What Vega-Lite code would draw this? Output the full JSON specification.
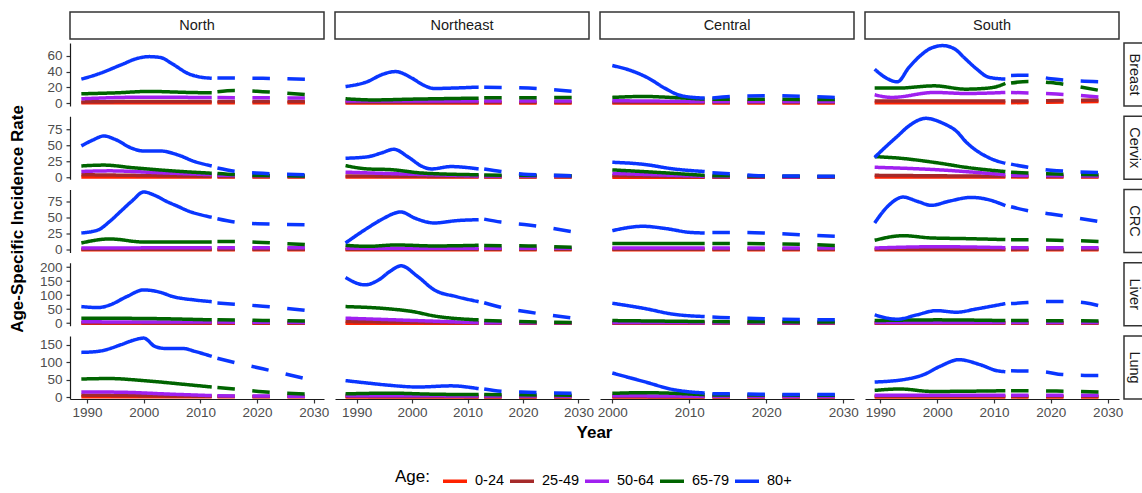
{
"$schema":"https://vega.github.io/schema/vega-lite/v6.json",
"padding":{"left":0,"top":11,"right":0,"bottom":0},
"background":"white",
"config":{
 "font":"Liberation Sans",
 "view":{"stroke":null},
 "line":{"strokeWidth":3.5,"strokeCap":"butt","strokeJoin":"round","interpolate":"monotone"},
 "range":{"category":["#ff2200","#a52a2a","#a020f0","#006400","#0a36ff"]},
 "axis":{"grid":false,"title":null,"domainColor":"#1a1a1a","domainWidth":1.2,"tickColor":"#333333","tickWidth":1.2,"tickSize":4,"labelColor":"#4d4d4d","labelFontSize":13.5,"labelFont":"Liberation Sans","labelOverlap":false},
 "axisY":{"labelPadding":4,"minExtent":34,"maxExtent":34},
 "axisX":{"labelPadding":2,"labelFlush":false},
 "legend":{"titleFontSize":17,"titleFontWeight":"normal","titleColor":"#000000","titleFont":"Liberation Sans","titlePadding":11,"titleAnchor":"middle","titleBaseline":"middle","labelFontSize":14.5,"labelColor":"#000000","labelFont":"Liberation Sans","labelOffset":6,"columnPadding":3,"symbolType":"stroke","symbolSize":576,"symbolStrokeWidth":3.5}
},
"datasets":{
"N_Br":[
{"age":"0-24","year":1989,"rate":0.3,"part":"obs"},{"age":"0-24","year":2012,"rate":0.3,"part":"obs"},{"age":"0-24","year":2013,"rate":0.3,"part":"proj"},{"age":"0-24","year":2029,"rate":0.3,"part":"proj"},
{"age":"25-49","year":1989,"rate":1.5,"part":"obs"},{"age":"25-49","year":2000,"rate":2,"part":"obs"},{"age":"25-49","year":2012,"rate":2,"part":"obs"},{"age":"25-49","year":2013,"rate":2,"part":"proj"},{"age":"25-49","year":2029,"rate":2,"part":"proj"},
{"age":"50-64","year":1989,"rate":5.5,"part":"obs"},{"age":"50-64","year":2000,"rate":7.5,"part":"obs"},{"age":"50-64","year":2012,"rate":7,"part":"obs"},{"age":"50-64","year":2013,"rate":7,"part":"proj"},{"age":"50-64","year":2029,"rate":6.5,"part":"proj"},
{"age":"65-79","year":1989,"rate":11.8,"part":"obs"},{"age":"65-79","year":1995,"rate":13,"part":"obs"},{"age":"65-79","year":2001,"rate":14.8,"part":"obs"},{"age":"65-79","year":2008,"rate":13.5,"part":"obs"},{"age":"65-79","year":2012,"rate":13,"part":"obs"},{"age":"65-79","year":2013,"rate":14.5,"part":"proj"},{"age":"65-79","year":2016,"rate":16,"part":"proj"},{"age":"65-79","year":2021,"rate":14.5,"part":"proj"},{"age":"65-79","year":2029,"rate":10.5,"part":"proj"},
{"age":"80+","year":1989,"rate":30.4,"part":"obs"},{"age":"80+","year":1992,"rate":37,"part":"obs"},{"age":"80+","year":1996,"rate":48.5,"part":"obs"},{"age":"80+","year":1999,"rate":57,"part":"obs"},{"age":"80+","year":2001,"rate":59,"part":"obs"},{"age":"80+","year":2003,"rate":57.8,"part":"obs"},{"age":"80+","year":2005,"rate":50,"part":"obs"},{"age":"80+","year":2008,"rate":37,"part":"obs"},{"age":"80+","year":2010,"rate":33,"part":"obs"},{"age":"80+","year":2012,"rate":31.6,"part":"obs"},{"age":"80+","year":2013,"rate":32,"part":"proj"},{"age":"80+","year":2021,"rate":31.5,"part":"proj"},{"age":"80+","year":2029,"rate":30,"part":"proj"}],
"N_Cx":[
{"age":"0-24","year":1989,"rate":0.4,"part":"obs"},{"age":"0-24","year":2012,"rate":0.4,"part":"obs"},{"age":"0-24","year":2013,"rate":0.4,"part":"proj"},{"age":"0-24","year":2029,"rate":0.4,"part":"proj"},
{"age":"25-49","year":1989,"rate":4,"part":"obs"},{"age":"25-49","year":2012,"rate":1.5,"part":"obs"},{"age":"25-49","year":2013,"rate":1.3,"part":"proj"},{"age":"25-49","year":2029,"rate":1,"part":"proj"},
{"age":"50-64","year":1989,"rate":9,"part":"obs"},{"age":"50-64","year":1994,"rate":10,"part":"obs"},{"age":"50-64","year":2003,"rate":7,"part":"obs"},{"age":"50-64","year":2012,"rate":4,"part":"obs"},{"age":"50-64","year":2013,"rate":3,"part":"proj"},{"age":"50-64","year":2029,"rate":2,"part":"proj"},
{"age":"65-79","year":1989,"rate":17.7,"part":"obs"},{"age":"65-79","year":1993,"rate":19,"part":"obs"},{"age":"65-79","year":1998,"rate":15,"part":"obs"},{"age":"65-79","year":2005,"rate":10,"part":"obs"},{"age":"65-79","year":2012,"rate":6.3,"part":"obs"},{"age":"65-79","year":2013,"rate":6,"part":"proj"},{"age":"65-79","year":2018,"rate":3.5,"part":"proj"},{"age":"65-79","year":2029,"rate":2,"part":"proj"},
{"age":"80+","year":1989,"rate":49,"part":"obs"},{"age":"80+","year":1991,"rate":58,"part":"obs"},{"age":"80+","year":1993,"rate":64.5,"part":"obs"},{"age":"80+","year":1995,"rate":59,"part":"obs"},{"age":"80+","year":1998,"rate":45,"part":"obs"},{"age":"80+","year":2000,"rate":41,"part":"obs"},{"age":"80+","year":2003,"rate":41,"part":"obs"},{"age":"80+","year":2006,"rate":35,"part":"obs"},{"age":"80+","year":2009,"rate":24.5,"part":"obs"},{"age":"80+","year":2012,"rate":17.7,"part":"obs"},{"age":"80+","year":2013,"rate":14.5,"part":"proj"},{"age":"80+","year":2016,"rate":9.5,"part":"proj"},{"age":"80+","year":2021,"rate":6.2,"part":"proj"},{"age":"80+","year":2029,"rate":4,"part":"proj"}],
"N_CRC":[
{"age":"0-24","year":1989,"rate":0.2,"part":"obs"},{"age":"0-24","year":2012,"rate":0.2,"part":"obs"},{"age":"0-24","year":2013,"rate":0.2,"part":"proj"},{"age":"0-24","year":2029,"rate":0.2,"part":"proj"},
{"age":"25-49","year":1989,"rate":1,"part":"obs"},{"age":"25-49","year":2012,"rate":1,"part":"obs"},{"age":"25-49","year":2013,"rate":1,"part":"proj"},{"age":"25-49","year":2029,"rate":1,"part":"proj"},
{"age":"50-64","year":1989,"rate":3,"part":"obs"},{"age":"50-64","year":2012,"rate":3.5,"part":"obs"},{"age":"50-64","year":2013,"rate":3.5,"part":"proj"},{"age":"50-64","year":2029,"rate":3.5,"part":"proj"},
{"age":"65-79","year":1989,"rate":10.8,"part":"obs"},{"age":"65-79","year":1994,"rate":17,"part":"obs"},{"age":"65-79","year":2000,"rate":12.3,"part":"obs"},{"age":"65-79","year":2012,"rate":12.3,"part":"obs"},{"age":"65-79","year":2013,"rate":13,"part":"proj"},{"age":"65-79","year":2016,"rate":13,"part":"proj"},{"age":"65-79","year":2021,"rate":11.5,"part":"proj"},{"age":"65-79","year":2029,"rate":8,"part":"proj"},
{"age":"80+","year":1989,"rate":26.2,"part":"obs"},{"age":"80+","year":1992,"rate":31,"part":"obs"},{"age":"80+","year":1994,"rate":44,"part":"obs"},{"age":"80+","year":1996,"rate":60,"part":"obs"},{"age":"80+","year":1998,"rate":76,"part":"obs"},{"age":"80+","year":2000,"rate":89.4,"part":"obs"},{"age":"80+","year":2002,"rate":84,"part":"obs"},{"age":"80+","year":2004,"rate":75,"part":"obs"},{"age":"80+","year":2006,"rate":67.3,"part":"obs"},{"age":"80+","year":2008,"rate":59.6,"part":"obs"},{"age":"80+","year":2010,"rate":54.4,"part":"obs"},{"age":"80+","year":2012,"rate":50.4,"part":"obs"},{"age":"80+","year":2013,"rate":48,"part":"proj"},{"age":"80+","year":2016,"rate":43,"part":"proj"},{"age":"80+","year":2020,"rate":40.5,"part":"proj"},{"age":"80+","year":2029,"rate":39,"part":"proj"}],
"N_Lv":[
{"age":"0-24","year":1989,"rate":0.3,"part":"obs"},{"age":"0-24","year":2012,"rate":0.3,"part":"obs"},{"age":"0-24","year":2013,"rate":0.3,"part":"proj"},{"age":"0-24","year":2029,"rate":0.3,"part":"proj"},
{"age":"25-49","year":1989,"rate":1.5,"part":"obs"},{"age":"25-49","year":2012,"rate":1,"part":"obs"},{"age":"25-49","year":2013,"rate":1,"part":"proj"},{"age":"25-49","year":2029,"rate":1,"part":"proj"},
{"age":"50-64","year":1989,"rate":5,"part":"obs"},{"age":"50-64","year":2012,"rate":4,"part":"obs"},{"age":"50-64","year":2013,"rate":4,"part":"proj"},{"age":"50-64","year":2029,"rate":3,"part":"proj"},
{"age":"65-79","year":1989,"rate":18,"part":"obs"},{"age":"65-79","year":2000,"rate":17,"part":"obs"},{"age":"65-79","year":2012,"rate":12,"part":"obs"},{"age":"65-79","year":2013,"rate":12,"part":"proj"},{"age":"65-79","year":2021,"rate":10,"part":"proj"},{"age":"65-79","year":2029,"rate":8,"part":"proj"},
{"age":"80+","year":1989,"rate":59.5,"part":"obs"},{"age":"80+","year":1992,"rate":56,"part":"obs"},{"age":"80+","year":1994,"rate":65,"part":"obs"},{"age":"80+","year":1997,"rate":95,"part":"obs"},{"age":"80+","year":2000,"rate":119,"part":"obs"},{"age":"80+","year":2003,"rate":110,"part":"obs"},{"age":"80+","year":2005,"rate":96,"part":"obs"},{"age":"80+","year":2009,"rate":83,"part":"obs"},{"age":"80+","year":2012,"rate":77,"part":"obs"},{"age":"80+","year":2013,"rate":72,"part":"proj"},{"age":"80+","year":2016,"rate":68,"part":"proj"},{"age":"80+","year":2021,"rate":61,"part":"proj"},{"age":"80+","year":2029,"rate":45,"part":"proj"}],
"N_Lg":[
{"age":"0-24","year":1989,"rate":0.5,"part":"obs"},{"age":"0-24","year":2012,"rate":0.5,"part":"obs"},{"age":"0-24","year":2013,"rate":0.5,"part":"proj"},{"age":"0-24","year":2029,"rate":0.5,"part":"proj"},
{"age":"25-49","year":1989,"rate":5.5,"part":"obs"},{"age":"25-49","year":2012,"rate":2,"part":"obs"},{"age":"25-49","year":2013,"rate":2,"part":"proj"},{"age":"25-49","year":2029,"rate":1.5,"part":"proj"},
{"age":"50-64","year":1989,"rate":14.3,"part":"obs"},{"age":"50-64","year":1995,"rate":14,"part":"obs"},{"age":"50-64","year":2005,"rate":8,"part":"obs"},{"age":"50-64","year":2012,"rate":4,"part":"obs"},{"age":"50-64","year":2013,"rate":3.5,"part":"proj"},{"age":"50-64","year":2029,"rate":2,"part":"proj"},
{"age":"65-79","year":1989,"rate":51.6,"part":"obs"},{"age":"65-79","year":1994,"rate":53,"part":"obs"},{"age":"65-79","year":2000,"rate":47,"part":"obs"},{"age":"65-79","year":2008,"rate":35,"part":"obs"},{"age":"65-79","year":2012,"rate":28.7,"part":"obs"},{"age":"65-79","year":2013,"rate":27,"part":"proj"},{"age":"65-79","year":2016,"rate":23,"part":"proj"},{"age":"65-79","year":2021,"rate":15,"part":"proj"},{"age":"65-79","year":2029,"rate":8,"part":"proj"},
{"age":"80+","year":1989,"rate":128,"part":"obs"},{"age":"80+","year":1992,"rate":131,"part":"obs"},{"age":"80+","year":1996,"rate":150,"part":"obs"},{"age":"80+","year":1998,"rate":162,"part":"obs"},{"age":"80+","year":2000,"rate":169,"part":"obs"},{"age":"80+","year":2002,"rate":145,"part":"obs"},{"age":"80+","year":2004,"rate":139,"part":"obs"},{"age":"80+","year":2007,"rate":139,"part":"obs"},{"age":"80+","year":2009,"rate":131,"part":"obs"},{"age":"80+","year":2012,"rate":116.5,"part":"obs"},{"age":"80+","year":2013,"rate":111,"part":"proj"},{"age":"80+","year":2016,"rate":99,"part":"proj"},{"age":"80+","year":2021,"rate":81,"part":"proj"},{"age":"80+","year":2029,"rate":51,"part":"proj"}],
"NE_Br":[
{"age":"0-24","year":1988,"rate":0.2,"part":"obs"},{"age":"0-24","year":2012,"rate":0.2,"part":"obs"},{"age":"0-24","year":2013,"rate":0.2,"part":"proj"},{"age":"0-24","year":2029,"rate":0.2,"part":"proj"},
{"age":"25-49","year":1988,"rate":1,"part":"obs"},{"age":"25-49","year":2012,"rate":1,"part":"obs"},{"age":"25-49","year":2013,"rate":1,"part":"proj"},{"age":"25-49","year":2029,"rate":1,"part":"proj"},
{"age":"50-64","year":1988,"rate":2.5,"part":"obs"},{"age":"50-64","year":2012,"rate":2.5,"part":"obs"},{"age":"50-64","year":2013,"rate":2.5,"part":"proj"},{"age":"50-64","year":2029,"rate":2.5,"part":"proj"},
{"age":"65-79","year":1988,"rate":5.5,"part":"obs"},{"age":"65-79","year":1993,"rate":4,"part":"obs"},{"age":"65-79","year":2000,"rate":5,"part":"obs"},{"age":"65-79","year":2012,"rate":6.3,"part":"obs"},{"age":"65-79","year":2013,"rate":6.8,"part":"proj"},{"age":"65-79","year":2029,"rate":7,"part":"proj"},
{"age":"80+","year":1988,"rate":21,"part":"obs"},{"age":"80+","year":1992,"rate":27.4,"part":"obs"},{"age":"80+","year":1994.5,"rate":36,"part":"obs"},{"age":"80+","year":1997,"rate":40,"part":"obs"},{"age":"80+","year":2000,"rate":31.6,"part":"obs"},{"age":"80+","year":2002,"rate":23,"part":"obs"},{"age":"80+","year":2004,"rate":18.5,"part":"obs"},{"age":"80+","year":2007,"rate":19,"part":"obs"},{"age":"80+","year":2012,"rate":20.3,"part":"obs"},{"age":"80+","year":2013,"rate":20,"part":"proj"},{"age":"80+","year":2016,"rate":19.8,"part":"proj"},{"age":"80+","year":2021,"rate":19,"part":"proj"},{"age":"80+","year":2029,"rate":15,"part":"proj"}],
"NE_Cx":[
{"age":"0-24","year":1988,"rate":0.3,"part":"obs"},{"age":"0-24","year":2012,"rate":0.3,"part":"obs"},{"age":"0-24","year":2013,"rate":0.3,"part":"proj"},{"age":"0-24","year":2029,"rate":0.3,"part":"proj"},
{"age":"25-49","year":1988,"rate":2,"part":"obs"},{"age":"25-49","year":2012,"rate":1,"part":"obs"},{"age":"25-49","year":2013,"rate":1,"part":"proj"},{"age":"25-49","year":2029,"rate":0.8,"part":"proj"},
{"age":"50-64","year":1988,"rate":8,"part":"obs"},{"age":"50-64","year":1995,"rate":6,"part":"obs"},{"age":"50-64","year":2012,"rate":2,"part":"obs"},{"age":"50-64","year":2013,"rate":2,"part":"proj"},{"age":"50-64","year":2029,"rate":1.5,"part":"proj"},
{"age":"65-79","year":1988,"rate":18.2,"part":"obs"},{"age":"65-79","year":1992,"rate":13,"part":"obs"},{"age":"65-79","year":1996,"rate":12,"part":"obs"},{"age":"65-79","year":2002,"rate":6.5,"part":"obs"},{"age":"65-79","year":2012,"rate":3.9,"part":"obs"},{"age":"65-79","year":2013,"rate":3.5,"part":"proj"},{"age":"65-79","year":2029,"rate":2.5,"part":"proj"},
{"age":"80+","year":1988,"rate":29.7,"part":"obs"},{"age":"80+","year":1992,"rate":32,"part":"obs"},{"age":"80+","year":1994.5,"rate":38,"part":"obs"},{"age":"80+","year":1996.7,"rate":43.7,"part":"obs"},{"age":"80+","year":1999.4,"rate":31,"part":"obs"},{"age":"80+","year":2001.8,"rate":17,"part":"obs"},{"age":"80+","year":2003.5,"rate":13,"part":"obs"},{"age":"80+","year":2007,"rate":16.7,"part":"obs"},{"age":"80+","year":2012,"rate":13,"part":"obs"},{"age":"80+","year":2013,"rate":13,"part":"proj"},{"age":"80+","year":2016,"rate":9,"part":"proj"},{"age":"80+","year":2021,"rate":4.5,"part":"proj"},{"age":"80+","year":2029,"rate":2.5,"part":"proj"}],
"NE_CRC":[
{"age":"0-24","year":1988,"rate":0.2,"part":"obs"},{"age":"0-24","year":2012,"rate":0.2,"part":"obs"},{"age":"0-24","year":2013,"rate":0.2,"part":"proj"},{"age":"0-24","year":2029,"rate":0.2,"part":"proj"},
{"age":"25-49","year":1988,"rate":1,"part":"obs"},{"age":"25-49","year":2012,"rate":1,"part":"obs"},{"age":"25-49","year":2013,"rate":1,"part":"proj"},{"age":"25-49","year":2029,"rate":1,"part":"proj"},
{"age":"50-64","year":1988,"rate":2.5,"part":"obs"},{"age":"50-64","year":2012,"rate":2.5,"part":"obs"},{"age":"50-64","year":2013,"rate":2.5,"part":"proj"},{"age":"50-64","year":2029,"rate":2.5,"part":"proj"},
{"age":"65-79","year":1988,"rate":7.2,"part":"obs"},{"age":"65-79","year":1992,"rate":5.6,"part":"obs"},{"age":"65-79","year":1997,"rate":7.7,"part":"obs"},{"age":"65-79","year":2004,"rate":6.2,"part":"obs"},{"age":"65-79","year":2012,"rate":7.2,"part":"obs"},{"age":"65-79","year":2013,"rate":6.7,"part":"proj"},{"age":"65-79","year":2021,"rate":6.2,"part":"proj"},{"age":"65-79","year":2029,"rate":4,"part":"proj"},
{"age":"80+","year":1988,"rate":10.8,"part":"obs"},{"age":"80+","year":1992,"rate":34,"part":"obs"},{"age":"80+","year":1994.5,"rate":47,"part":"obs"},{"age":"80+","year":1998,"rate":58.6,"part":"obs"},{"age":"80+","year":2000.5,"rate":49,"part":"obs"},{"age":"80+","year":2004,"rate":41.6,"part":"obs"},{"age":"80+","year":2008,"rate":45.2,"part":"obs"},{"age":"80+","year":2012,"rate":46.7,"part":"obs"},{"age":"80+","year":2013,"rate":47.5,"part":"proj"},{"age":"80+","year":2016,"rate":43,"part":"proj"},{"age":"80+","year":2021,"rate":38.5,"part":"proj"},{"age":"80+","year":2029,"rate":28,"part":"proj"}],
"NE_Lv":[
{"age":"0-24","year":1988,"rate":0.3,"part":"obs"},{"age":"0-24","year":2012,"rate":0.3,"part":"obs"},{"age":"0-24","year":2013,"rate":0.3,"part":"proj"},{"age":"0-24","year":2029,"rate":0.3,"part":"proj"},
{"age":"25-49","year":1988,"rate":6,"part":"obs"},{"age":"25-49","year":2012,"rate":1,"part":"obs"},{"age":"25-49","year":2013,"rate":1,"part":"proj"},{"age":"25-49","year":2029,"rate":0.8,"part":"proj"},
{"age":"50-64","year":1988,"rate":18,"part":"obs"},{"age":"50-64","year":2000,"rate":10,"part":"obs"},{"age":"50-64","year":2012,"rate":2,"part":"obs"},{"age":"50-64","year":2013,"rate":2,"part":"proj"},{"age":"50-64","year":2029,"rate":1.5,"part":"proj"},
{"age":"65-79","year":1988,"rate":59.5,"part":"obs"},{"age":"65-79","year":1996,"rate":51,"part":"obs"},{"age":"65-79","year":2000,"rate":42,"part":"obs"},{"age":"65-79","year":2004,"rate":26,"part":"obs"},{"age":"65-79","year":2012,"rate":11.9,"part":"obs"},{"age":"65-79","year":2013,"rate":10,"part":"proj"},{"age":"65-79","year":2021,"rate":5,"part":"proj"},{"age":"65-79","year":2029,"rate":3,"part":"proj"},
{"age":"80+","year":1988,"rate":163,"part":"obs"},{"age":"80+","year":1991.5,"rate":137,"part":"obs"},{"age":"80+","year":1994,"rate":155,"part":"obs"},{"age":"80+","year":1996,"rate":185,"part":"obs"},{"age":"80+","year":1998,"rate":205,"part":"obs"},{"age":"80+","year":2001,"rate":167,"part":"obs"},{"age":"80+","year":2004,"rate":119,"part":"obs"},{"age":"80+","year":2008,"rate":95,"part":"obs"},{"age":"80+","year":2012,"rate":77,"part":"obs"},{"age":"80+","year":2013,"rate":73,"part":"proj"},{"age":"80+","year":2016,"rate":57,"part":"proj"},{"age":"80+","year":2021,"rate":40,"part":"proj"},{"age":"80+","year":2029,"rate":18,"part":"proj"}],
"NE_Lg":[
{"age":"0-24","year":1988,"rate":0.3,"part":"obs"},{"age":"0-24","year":2012,"rate":0.3,"part":"obs"},{"age":"0-24","year":2013,"rate":0.3,"part":"proj"},{"age":"0-24","year":2029,"rate":0.3,"part":"proj"},
{"age":"25-49","year":1988,"rate":2,"part":"obs"},{"age":"25-49","year":2012,"rate":1,"part":"obs"},{"age":"25-49","year":2013,"rate":1,"part":"proj"},{"age":"25-49","year":2029,"rate":1,"part":"proj"},
{"age":"50-64","year":1988,"rate":4,"part":"obs"},{"age":"50-64","year":2012,"rate":3,"part":"obs"},{"age":"50-64","year":2013,"rate":3,"part":"proj"},{"age":"50-64","year":2029,"rate":2.5,"part":"proj"},
{"age":"65-79","year":1988,"rate":9,"part":"obs"},{"age":"65-79","year":1996,"rate":11,"part":"obs"},{"age":"65-79","year":2004,"rate":8,"part":"obs"},{"age":"65-79","year":2012,"rate":7,"part":"obs"},{"age":"65-79","year":2013,"rate":7,"part":"proj"},{"age":"65-79","year":2029,"rate":5,"part":"proj"},
{"age":"80+","year":1988,"rate":47,"part":"obs"},{"age":"80+","year":1992,"rate":40,"part":"obs"},{"age":"80+","year":1996,"rate":33.5,"part":"obs"},{"age":"80+","year":2001,"rate":28.7,"part":"obs"},{"age":"80+","year":2007,"rate":32,"part":"obs"},{"age":"80+","year":2012,"rate":24,"part":"obs"},{"age":"80+","year":2013,"rate":23,"part":"proj"},{"age":"80+","year":2016,"rate":16.5,"part":"proj"},{"age":"80+","year":2021,"rate":13.5,"part":"proj"},{"age":"80+","year":2029,"rate":11,"part":"proj"}],
"C_Br":[
{"age":"0-24","year":2000,"rate":0.2,"part":"obs"},{"age":"0-24","year":2012,"rate":0.2,"part":"obs"},{"age":"0-24","year":2013,"rate":0.2,"part":"proj"},{"age":"0-24","year":2029,"rate":0.2,"part":"proj"},
{"age":"25-49","year":2000,"rate":1,"part":"obs"},{"age":"25-49","year":2012,"rate":1,"part":"obs"},{"age":"25-49","year":2013,"rate":1,"part":"proj"},{"age":"25-49","year":2029,"rate":1,"part":"proj"},
{"age":"50-64","year":2000,"rate":3,"part":"obs"},{"age":"50-64","year":2012,"rate":2,"part":"obs"},{"age":"50-64","year":2013,"rate":2,"part":"proj"},{"age":"50-64","year":2029,"rate":2,"part":"proj"},
{"age":"65-79","year":2000,"rate":7.2,"part":"obs"},{"age":"65-79","year":2004,"rate":8.4,"part":"obs"},{"age":"65-79","year":2008,"rate":7,"part":"obs"},{"age":"65-79","year":2012,"rate":5,"part":"obs"},{"age":"65-79","year":2013,"rate":5,"part":"proj"},{"age":"65-79","year":2021,"rate":4.8,"part":"proj"},{"age":"65-79","year":2029,"rate":4.5,"part":"proj"},
{"age":"80+","year":2000,"rate":47.7,"part":"obs"},{"age":"80+","year":2002.5,"rate":41,"part":"obs"},{"age":"80+","year":2004.7,"rate":31.6,"part":"obs"},{"age":"80+","year":2006.8,"rate":19,"part":"obs"},{"age":"80+","year":2009,"rate":9.3,"part":"obs"},{"age":"80+","year":2012,"rate":6.3,"part":"obs"},{"age":"80+","year":2013,"rate":6.5,"part":"proj"},{"age":"80+","year":2017,"rate":9,"part":"proj"},{"age":"80+","year":2021,"rate":9.3,"part":"proj"},{"age":"80+","year":2025,"rate":8.5,"part":"proj"},{"age":"80+","year":2029,"rate":7,"part":"proj"}],
"C_Cx":[
{"age":"0-24","year":2000,"rate":0.2,"part":"obs"},{"age":"0-24","year":2012,"rate":0.2,"part":"obs"},{"age":"0-24","year":2013,"rate":0.2,"part":"proj"},{"age":"0-24","year":2029,"rate":0.2,"part":"proj"},
{"age":"25-49","year":2000,"rate":2.5,"part":"obs"},{"age":"25-49","year":2012,"rate":0.5,"part":"obs"},{"age":"25-49","year":2013,"rate":0.5,"part":"proj"},{"age":"25-49","year":2029,"rate":0.4,"part":"proj"},
{"age":"50-64","year":2000,"rate":6,"part":"obs"},{"age":"50-64","year":2012,"rate":1.5,"part":"obs"},{"age":"50-64","year":2013,"rate":1.2,"part":"proj"},{"age":"50-64","year":2029,"rate":0.8,"part":"proj"},
{"age":"65-79","year":2000,"rate":11.5,"part":"obs"},{"age":"65-79","year":2006,"rate":7.5,"part":"obs"},{"age":"65-79","year":2012,"rate":2.9,"part":"obs"},{"age":"65-79","year":2013,"rate":2.5,"part":"proj"},{"age":"65-79","year":2029,"rate":1,"part":"proj"},
{"age":"80+","year":2000,"rate":23.4,"part":"obs"},{"age":"80+","year":2004,"rate":20.3,"part":"obs"},{"age":"80+","year":2008,"rate":13,"part":"obs"},{"age":"80+","year":2012,"rate":8.9,"part":"obs"},{"age":"80+","year":2013,"rate":7,"part":"proj"},{"age":"80+","year":2016,"rate":5,"part":"proj"},{"age":"80+","year":2019,"rate":2.5,"part":"proj"},{"age":"80+","year":2029,"rate":1.5,"part":"proj"}],
"C_CRC":[
{"age":"0-24","year":2000,"rate":0.2,"part":"obs"},{"age":"0-24","year":2012,"rate":0.2,"part":"obs"},{"age":"0-24","year":2013,"rate":0.2,"part":"proj"},{"age":"0-24","year":2029,"rate":0.2,"part":"proj"},
{"age":"25-49","year":2000,"rate":1,"part":"obs"},{"age":"25-49","year":2012,"rate":1,"part":"obs"},{"age":"25-49","year":2013,"rate":1,"part":"proj"},{"age":"25-49","year":2029,"rate":1,"part":"proj"},
{"age":"50-64","year":2000,"rate":3,"part":"obs"},{"age":"50-64","year":2012,"rate":3,"part":"obs"},{"age":"50-64","year":2013,"rate":3,"part":"proj"},{"age":"50-64","year":2029,"rate":3,"part":"proj"},
{"age":"65-79","year":2000,"rate":9.8,"part":"obs"},{"age":"65-79","year":2012,"rate":9.8,"part":"obs"},{"age":"65-79","year":2013,"rate":10,"part":"proj"},{"age":"65-79","year":2021,"rate":9.5,"part":"proj"},{"age":"65-79","year":2029,"rate":7,"part":"proj"},
{"age":"80+","year":2000,"rate":29.8,"part":"obs"},{"age":"80+","year":2004,"rate":36.5,"part":"obs"},{"age":"80+","year":2007,"rate":32.9,"part":"obs"},{"age":"80+","year":2010,"rate":27.2,"part":"obs"},{"age":"80+","year":2012,"rate":26.2,"part":"obs"},{"age":"80+","year":2013,"rate":27,"part":"proj"},{"age":"80+","year":2017,"rate":27,"part":"proj"},{"age":"80+","year":2021,"rate":25.5,"part":"proj"},{"age":"80+","year":2025,"rate":23,"part":"proj"},{"age":"80+","year":2029,"rate":21,"part":"proj"}],
"C_Lv":[
{"age":"0-24","year":2000,"rate":0.2,"part":"obs"},{"age":"0-24","year":2012,"rate":0.2,"part":"obs"},{"age":"0-24","year":2013,"rate":0.2,"part":"proj"},{"age":"0-24","year":2029,"rate":0.2,"part":"proj"},
{"age":"25-49","year":2000,"rate":1,"part":"obs"},{"age":"25-49","year":2012,"rate":1,"part":"obs"},{"age":"25-49","year":2013,"rate":1,"part":"proj"},{"age":"25-49","year":2029,"rate":1,"part":"proj"},
{"age":"50-64","year":2000,"rate":3,"part":"obs"},{"age":"50-64","year":2012,"rate":2,"part":"obs"},{"age":"50-64","year":2013,"rate":2,"part":"proj"},{"age":"50-64","year":2029,"rate":1.5,"part":"proj"},
{"age":"65-79","year":2000,"rate":9.5,"part":"obs"},{"age":"65-79","year":2012,"rate":6,"part":"obs"},{"age":"65-79","year":2013,"rate":6,"part":"proj"},{"age":"65-79","year":2029,"rate":4,"part":"proj"},
{"age":"80+","year":2000,"rate":71.4,"part":"obs"},{"age":"80+","year":2004,"rate":53.6,"part":"obs"},{"age":"80+","year":2008,"rate":32,"part":"obs"},{"age":"80+","year":2012,"rate":23.8,"part":"obs"},{"age":"80+","year":2013,"rate":22,"part":"proj"},{"age":"80+","year":2017,"rate":18,"part":"proj"},{"age":"80+","year":2021,"rate":15,"part":"proj"},{"age":"80+","year":2025,"rate":13,"part":"proj"},{"age":"80+","year":2029,"rate":12,"part":"proj"}],
"C_Lg":[
{"age":"0-24","year":2000,"rate":0.2,"part":"obs"},{"age":"0-24","year":2012,"rate":0.2,"part":"obs"},{"age":"0-24","year":2013,"rate":0.2,"part":"proj"},{"age":"0-24","year":2029,"rate":0.2,"part":"proj"},
{"age":"25-49","year":2000,"rate":1.5,"part":"obs"},{"age":"25-49","year":2012,"rate":0.5,"part":"obs"},{"age":"25-49","year":2013,"rate":0.5,"part":"proj"},{"age":"25-49","year":2029,"rate":0.5,"part":"proj"},
{"age":"50-64","year":2000,"rate":4,"part":"obs"},{"age":"50-64","year":2012,"rate":2,"part":"obs"},{"age":"50-64","year":2013,"rate":2,"part":"proj"},{"age":"50-64","year":2029,"rate":1.5,"part":"proj"},
{"age":"65-79","year":2000,"rate":10.5,"part":"obs"},{"age":"65-79","year":2004,"rate":12.4,"part":"obs"},{"age":"65-79","year":2012,"rate":6.7,"part":"obs"},{"age":"65-79","year":2013,"rate":6,"part":"proj"},{"age":"65-79","year":2029,"rate":5,"part":"proj"},
{"age":"80+","year":2000,"rate":68.8,"part":"obs"},{"age":"80+","year":2004,"rate":44.9,"part":"obs"},{"age":"80+","year":2008,"rate":21,"part":"obs"},{"age":"80+","year":2012,"rate":11.5,"part":"obs"},{"age":"80+","year":2013,"rate":9.5,"part":"proj"},{"age":"80+","year":2017,"rate":9,"part":"proj"},{"age":"80+","year":2021,"rate":7.6,"part":"proj"},{"age":"80+","year":2029,"rate":7,"part":"proj"}],
"S_Br":[
{"age":"0-24","year":1989,"rate":0.5,"part":"obs"},{"age":"0-24","year":2012,"rate":0.5,"part":"obs"},{"age":"0-24","year":2013,"rate":0.5,"part":"proj"},{"age":"0-24","year":2029,"rate":2,"part":"proj"},
{"age":"25-49","year":1989,"rate":2.5,"part":"obs"},{"age":"25-49","year":2012,"rate":2.5,"part":"obs"},{"age":"25-49","year":2013,"rate":2.5,"part":"proj"},{"age":"25-49","year":2029,"rate":4,"part":"proj"},
{"age":"50-64","year":1989,"rate":10.5,"part":"obs"},{"age":"50-64","year":1992,"rate":7.2,"part":"obs"},{"age":"50-64","year":1999.5,"rate":13.5,"part":"obs"},{"age":"50-64","year":2005,"rate":12.2,"part":"obs"},{"age":"50-64","year":2012,"rate":13.5,"part":"obs"},{"age":"50-64","year":2013,"rate":13.5,"part":"proj"},{"age":"50-64","year":2021,"rate":11.5,"part":"proj"},{"age":"50-64","year":2029,"rate":7.5,"part":"proj"},
{"age":"65-79","year":1989,"rate":19,"part":"obs"},{"age":"65-79","year":1993,"rate":19,"part":"obs"},{"age":"65-79","year":1999.5,"rate":21.9,"part":"obs"},{"age":"65-79","year":2005,"rate":17.7,"part":"obs"},{"age":"65-79","year":2008,"rate":18.5,"part":"obs"},{"age":"65-79","year":2010.5,"rate":21,"part":"obs"},{"age":"65-79","year":2012,"rate":25,"part":"obs"},{"age":"65-79","year":2013,"rate":25.5,"part":"proj"},{"age":"65-79","year":2016,"rate":27.5,"part":"proj"},{"age":"65-79","year":2020,"rate":26,"part":"proj"},{"age":"65-79","year":2023,"rate":23,"part":"proj"},{"age":"65-79","year":2029,"rate":15.5,"part":"proj"},
{"age":"80+","year":1989,"rate":43,"part":"obs"},{"age":"80+","year":1991,"rate":32,"part":"obs"},{"age":"80+","year":1993,"rate":27,"part":"obs"},{"age":"80+","year":1995,"rate":45,"part":"obs"},{"age":"80+","year":1997,"rate":60,"part":"obs"},{"age":"80+","year":1999,"rate":70,"part":"obs"},{"age":"80+","year":2001,"rate":73,"part":"obs"},{"age":"80+","year":2003,"rate":69,"part":"obs"},{"age":"80+","year":2005,"rate":56,"part":"obs"},{"age":"80+","year":2007,"rate":43,"part":"obs"},{"age":"80+","year":2009,"rate":33,"part":"obs"},{"age":"80+","year":2012,"rate":30.4,"part":"obs"},{"age":"80+","year":2013,"rate":35,"part":"proj"},{"age":"80+","year":2016,"rate":35.5,"part":"proj"},{"age":"80+","year":2020,"rate":31,"part":"proj"},{"age":"80+","year":2023,"rate":29,"part":"proj"},{"age":"80+","year":2029,"rate":27,"part":"proj"}],
"S_Cx":[
{"age":"0-24","year":1989,"rate":0.5,"part":"obs"},{"age":"0-24","year":2012,"rate":0.5,"part":"obs"},{"age":"0-24","year":2013,"rate":0.5,"part":"proj"},{"age":"0-24","year":2029,"rate":0.5,"part":"proj"},
{"age":"25-49","year":1989,"rate":3,"part":"obs"},{"age":"25-49","year":2012,"rate":1.5,"part":"obs"},{"age":"25-49","year":2013,"rate":1.5,"part":"proj"},{"age":"25-49","year":2029,"rate":1,"part":"proj"},
{"age":"50-64","year":1989,"rate":15.6,"part":"obs"},{"age":"50-64","year":2000.5,"rate":11.5,"part":"obs"},{"age":"50-64","year":2012,"rate":3.9,"part":"obs"},{"age":"50-64","year":2013,"rate":3,"part":"proj"},{"age":"50-64","year":2029,"rate":2,"part":"proj"},
{"age":"65-79","year":1989,"rate":32.3,"part":"obs"},{"age":"65-79","year":1993.5,"rate":29.7,"part":"obs"},{"age":"65-79","year":2000.5,"rate":21.9,"part":"obs"},{"age":"65-79","year":2005,"rate":15.6,"part":"obs"},{"age":"65-79","year":2012,"rate":8.9,"part":"obs"},{"age":"65-79","year":2013,"rate":8,"part":"proj"},{"age":"65-79","year":2016,"rate":6.5,"part":"proj"},{"age":"65-79","year":2021,"rate":5,"part":"proj"},{"age":"65-79","year":2029,"rate":4,"part":"proj"},
{"age":"80+","year":1989,"rate":31,"part":"obs"},{"age":"80+","year":1991,"rate":48,"part":"obs"},{"age":"80+","year":1993,"rate":64,"part":"obs"},{"age":"80+","year":1995,"rate":80,"part":"obs"},{"age":"80+","year":1998,"rate":92,"part":"obs"},{"age":"80+","year":2001,"rate":84.4,"part":"obs"},{"age":"80+","year":2003.5,"rate":71,"part":"obs"},{"age":"80+","year":2005,"rate":56,"part":"obs"},{"age":"80+","year":2009,"rate":31,"part":"obs"},{"age":"80+","year":2010.5,"rate":25.5,"part":"obs"},{"age":"80+","year":2012,"rate":21.9,"part":"obs"},{"age":"80+","year":2013,"rate":20.5,"part":"proj"},{"age":"80+","year":2016,"rate":15.5,"part":"proj"},{"age":"80+","year":2020,"rate":11,"part":"proj"},{"age":"80+","year":2029,"rate":7.5,"part":"proj"}],
"S_CRC":[
{"age":"0-24","year":1989,"rate":0.3,"part":"obs"},{"age":"0-24","year":2012,"rate":0.3,"part":"obs"},{"age":"0-24","year":2013,"rate":0.3,"part":"proj"},{"age":"0-24","year":2029,"rate":0.3,"part":"proj"},
{"age":"25-49","year":1989,"rate":1,"part":"obs"},{"age":"25-49","year":2012,"rate":1,"part":"obs"},{"age":"25-49","year":2013,"rate":1,"part":"proj"},{"age":"25-49","year":2029,"rate":1,"part":"proj"},
{"age":"50-64","year":1989,"rate":3,"part":"obs"},{"age":"50-64","year":2000,"rate":5,"part":"obs"},{"age":"50-64","year":2012,"rate":3.5,"part":"obs"},{"age":"50-64","year":2013,"rate":3.5,"part":"proj"},{"age":"50-64","year":2029,"rate":3.5,"part":"proj"},
{"age":"65-79","year":1989,"rate":14.9,"part":"obs"},{"age":"65-79","year":1994,"rate":22,"part":"obs"},{"age":"65-79","year":1999,"rate":18.5,"part":"obs"},{"age":"65-79","year":2005,"rate":17.5,"part":"obs"},{"age":"65-79","year":2012,"rate":16,"part":"obs"},{"age":"65-79","year":2013,"rate":15.8,"part":"proj"},{"age":"65-79","year":2021,"rate":15,"part":"proj"},{"age":"65-79","year":2029,"rate":13,"part":"proj"},
{"age":"80+","year":1989,"rate":41.6,"part":"obs"},{"age":"80+","year":1991.5,"rate":69,"part":"obs"},{"age":"80+","year":1994,"rate":81.5,"part":"obs"},{"age":"80+","year":1996.5,"rate":75,"part":"obs"},{"age":"80+","year":1999,"rate":68.8,"part":"obs"},{"age":"80+","year":2002,"rate":75,"part":"obs"},{"age":"80+","year":2006,"rate":81,"part":"obs"},{"age":"80+","year":2009,"rate":77.6,"part":"obs"},{"age":"80+","year":2012,"rate":68.3,"part":"obs"},{"age":"80+","year":2013,"rate":66.5,"part":"proj"},{"age":"80+","year":2016,"rate":60.5,"part":"proj"},{"age":"80+","year":2020,"rate":55.5,"part":"proj"},{"age":"80+","year":2024,"rate":50,"part":"proj"},{"age":"80+","year":2029,"rate":43,"part":"proj"}],
"S_Lv":[
{"age":"0-24","year":1989,"rate":0.3,"part":"obs"},{"age":"0-24","year":2012,"rate":0.3,"part":"obs"},{"age":"0-24","year":2013,"rate":0.3,"part":"proj"},{"age":"0-24","year":2029,"rate":0.3,"part":"proj"},
{"age":"25-49","year":1989,"rate":1,"part":"obs"},{"age":"25-49","year":2012,"rate":1,"part":"obs"},{"age":"25-49","year":2013,"rate":1,"part":"proj"},{"age":"25-49","year":2029,"rate":1,"part":"proj"},
{"age":"50-64","year":1989,"rate":3,"part":"obs"},{"age":"50-64","year":2012,"rate":3,"part":"obs"},{"age":"50-64","year":2013,"rate":3,"part":"proj"},{"age":"50-64","year":2029,"rate":3,"part":"proj"},
{"age":"65-79","year":1989,"rate":9.5,"part":"obs"},{"age":"65-79","year":2000,"rate":12,"part":"obs"},{"age":"65-79","year":2012,"rate":9.5,"part":"obs"},{"age":"65-79","year":2013,"rate":9.5,"part":"proj"},{"age":"65-79","year":2021,"rate":9,"part":"proj"},{"age":"65-79","year":2029,"rate":8,"part":"proj"},
{"age":"80+","year":1989,"rate":29.8,"part":"obs"},{"age":"80+","year":1993,"rate":14.3,"part":"obs"},{"age":"80+","year":1996.4,"rate":29.8,"part":"obs"},{"age":"80+","year":1999.9,"rate":45,"part":"obs"},{"age":"80+","year":2003.4,"rate":39.3,"part":"obs"},{"age":"80+","year":2006.9,"rate":51,"part":"obs"},{"age":"80+","year":2012,"rate":70,"part":"obs"},{"age":"80+","year":2013,"rate":70,"part":"proj"},{"age":"80+","year":2016,"rate":74,"part":"proj"},{"age":"80+","year":2020,"rate":77.4,"part":"proj"},{"age":"80+","year":2023,"rate":77,"part":"proj"},{"age":"80+","year":2026,"rate":73,"part":"proj"},{"age":"80+","year":2029,"rate":60,"part":"proj"}],
"S_Lg":[
{"age":"0-24","year":1989,"rate":0.3,"part":"obs"},{"age":"0-24","year":2012,"rate":0.3,"part":"obs"},{"age":"0-24","year":2013,"rate":0.3,"part":"proj"},{"age":"0-24","year":2029,"rate":0.3,"part":"proj"},
{"age":"25-49","year":1989,"rate":2,"part":"obs"},{"age":"25-49","year":2012,"rate":2,"part":"obs"},{"age":"25-49","year":2013,"rate":2,"part":"proj"},{"age":"25-49","year":2029,"rate":2,"part":"proj"},
{"age":"50-64","year":1989,"rate":5,"part":"obs"},{"age":"50-64","year":2012,"rate":5,"part":"obs"},{"age":"50-64","year":2013,"rate":5,"part":"proj"},{"age":"50-64","year":2029,"rate":5,"part":"proj"},
{"age":"65-79","year":1989,"rate":19,"part":"obs"},{"age":"65-79","year":1993.5,"rate":23,"part":"obs"},{"age":"65-79","year":1999,"rate":16,"part":"obs"},{"age":"65-79","year":2012,"rate":18,"part":"obs"},{"age":"65-79","year":2013,"rate":18,"part":"proj"},{"age":"65-79","year":2021,"rate":17,"part":"proj"},{"age":"65-79","year":2029,"rate":14,"part":"proj"},
{"age":"80+","year":1989,"rate":43,"part":"obs"},{"age":"80+","year":1994.7,"rate":51.6,"part":"obs"},{"age":"80+","year":1997.6,"rate":64,"part":"obs"},{"age":"80+","year":2000.5,"rate":88,"part":"obs"},{"age":"80+","year":2003.8,"rate":107,"part":"obs"},{"age":"80+","year":2007.6,"rate":92.6,"part":"obs"},{"age":"80+","year":2010.5,"rate":75.5,"part":"obs"},{"age":"80+","year":2012,"rate":72.6,"part":"obs"},{"age":"80+","year":2013,"rate":75,"part":"proj"},{"age":"80+","year":2016,"rate":74.5,"part":"proj"},{"age":"80+","year":2019,"rate":72,"part":"proj"},{"age":"80+","year":2022,"rate":64.5,"part":"proj"},{"age":"80+","year":2026,"rate":62,"part":"proj"},{"age":"80+","year":2029,"rate":62,"part":"proj"}]
},
"hconcat":[
{"width":35,"height":414,"data":{"values":[{"t":"Age-Specific Incidence Rate"}]},"mark":{"type":"text","angle":270,"fontSize":17,"fontWeight":"bold","color":"#000000"},"encoding":{"text":{"field":"t"}}},
{"vconcat":[
 {"vconcat":[
  {"hconcat":[
   {"width":254,"height":27,"view":{"stroke":"#333333","strokeWidth":1.5,"fill":"white"},"data":{"values":[{"t":"North"}]},"mark":{"type":"text","fontSize":14.5,"color":"#1a1a1a"},"encoding":{"text":{"field":"t"},"y":{"field":"t","type":"nominal","axis":{"labels":false,"ticks":false,"domain":false}}}},
   {"width":254,"height":27,"view":{"stroke":"#333333","strokeWidth":1.5,"fill":"white"},"data":{"values":[{"t":"Northeast"}]},"mark":{"type":"text","fontSize":14.5,"color":"#1a1a1a"},"encoding":{"text":{"field":"t"}}},
   {"width":254,"height":27,"view":{"stroke":"#333333","strokeWidth":1.5,"fill":"white"},"data":{"values":[{"t":"Central"}]},"mark":{"type":"text","fontSize":14.5,"color":"#1a1a1a"},"encoding":{"text":{"field":"t"}}},
   {"width":254,"height":27,"view":{"stroke":"#333333","strokeWidth":1.5,"fill":"white"},"data":{"values":[{"t":"South"}]},"mark":{"type":"text","fontSize":14.5,"color":"#1a1a1a"},"encoding":{"text":{"field":"t"}}}
  ],"spacing":11,"bounds":"flush"},
  {"hconcat":[
   {"concat":[
     {"width":254,"height":63,"data":{"name":"N_Br"},"mark":"line","encoding":{"x":{"field":"year","type":"quantitative","scale":{"domain":[1987,2031.8],"nice":false,"zero":false},"axis":null},"y":{"field":"rate","type":"quantitative","scale":{"domain":[-3.7,76.3],"nice":false,"zero":false},"axis":{"values":[0,20,40,60]}},"color":{"field":"age","type":"nominal","title":"Age:","legend":{"orient":"none","legendX":395,"legendY":455,"direction":"horizontal","titleOrient":"left"}},"strokeDash":{"field":"part","type":"nominal","legend":null,"scale":{"domain":["obs","proj"],"range":[[1,0],[17.5,17.5]]}}}},
     {"width":254,"height":63,"data":{"name":"NE_Br"},"mark":"line","encoding":{"x":{"field":"year","type":"quantitative","scale":{"domain":[1986.1,2031.9],"nice":false,"zero":false},"axis":null},"y":{"field":"rate","type":"quantitative","scale":{"domain":[-3.7,76.3],"nice":false,"zero":false},"axis":null},"color":{"field":"age","type":"nominal","title":"Age:"},"strokeDash":{"field":"part","type":"nominal","legend":null,"scale":{"domain":["obs","proj"],"range":[[1,0],[17.5,17.5]]}}}},
     {"width":254,"height":63,"data":{"name":"C_Br"},"mark":"line","encoding":{"x":{"field":"year","type":"quantitative","scale":{"domain":[1998.4,2031.4],"nice":false,"zero":false},"axis":null},"y":{"field":"rate","type":"quantitative","scale":{"domain":[-3.7,76.3],"nice":false,"zero":false},"axis":null},"color":{"field":"age","type":"nominal","title":"Age:"},"strokeDash":{"field":"part","type":"nominal","legend":null,"scale":{"domain":["obs","proj"],"range":[[1,0],[17.5,17.5]]}}}},
     {"width":254,"height":63,"data":{"name":"S_Br"},"mark":"line","encoding":{"x":{"field":"year","type":"quantitative","scale":{"domain":[1987.3,2032],"nice":false,"zero":false},"axis":null},"y":{"field":"rate","type":"quantitative","scale":{"domain":[-3.7,76.3],"nice":false,"zero":false},"axis":null},"color":{"field":"age","type":"nominal","title":"Age:"},"strokeDash":{"field":"part","type":"nominal","legend":null,"scale":{"domain":["obs","proj"],"range":[[1,0],[17.5,17.5]]}}}},
     {"width":254,"height":63,"data":{"name":"N_Cx"},"mark":"line","encoding":{"x":{"field":"year","type":"quantitative","scale":{"domain":[1987,2031.8],"nice":false,"zero":false},"axis":null},"y":{"field":"rate","type":"quantitative","scale":{"domain":[-3.1,95.3],"nice":false,"zero":false},"axis":{"values":[0,25,50,75]}},"color":{"field":"age","type":"nominal","title":"Age:"},"strokeDash":{"field":"part","type":"nominal","legend":null,"scale":{"domain":["obs","proj"],"range":[[1,0],[17.5,17.5]]}}}},
     {"width":254,"height":63,"data":{"name":"NE_Cx"},"mark":"line","encoding":{"x":{"field":"year","type":"quantitative","scale":{"domain":[1986.1,2031.9],"nice":false,"zero":false},"axis":null},"y":{"field":"rate","type":"quantitative","scale":{"domain":[-3.1,95.3],"nice":false,"zero":false},"axis":null},"color":{"field":"age","type":"nominal","title":"Age:"},"strokeDash":{"field":"part","type":"nominal","legend":null,"scale":{"domain":["obs","proj"],"range":[[1,0],[17.5,17.5]]}}}},
     {"width":254,"height":63,"data":{"name":"C_Cx"},"mark":"line","encoding":{"x":{"field":"year","type":"quantitative","scale":{"domain":[1998.4,2031.4],"nice":false,"zero":false},"axis":null},"y":{"field":"rate","type":"quantitative","scale":{"domain":[-3.1,95.3],"nice":false,"zero":false},"axis":null},"color":{"field":"age","type":"nominal","title":"Age:"},"strokeDash":{"field":"part","type":"nominal","legend":null,"scale":{"domain":["obs","proj"],"range":[[1,0],[17.5,17.5]]}}}},
     {"width":254,"height":63,"data":{"name":"S_Cx"},"mark":"line","encoding":{"x":{"field":"year","type":"quantitative","scale":{"domain":[1987.3,2032],"nice":false,"zero":false},"axis":null},"y":{"field":"rate","type":"quantitative","scale":{"domain":[-3.1,95.3],"nice":false,"zero":false},"axis":null},"color":{"field":"age","type":"nominal","title":"Age:"},"strokeDash":{"field":"part","type":"nominal","legend":null,"scale":{"domain":["obs","proj"],"range":[[1,0],[17.5,17.5]]}}}},
     {"width":254,"height":63,"data":{"name":"N_CRC"},"mark":"line","encoding":{"x":{"field":"year","type":"quantitative","scale":{"domain":[1987,2031.8],"nice":false,"zero":false},"axis":null},"y":{"field":"rate","type":"quantitative","scale":{"domain":[-3.9,93.2],"nice":false,"zero":false},"axis":{"values":[0,25,50,75]}},"color":{"field":"age","type":"nominal","title":"Age:"},"strokeDash":{"field":"part","type":"nominal","legend":null,"scale":{"domain":["obs","proj"],"range":[[1,0],[17.5,17.5]]}}}},
     {"width":254,"height":63,"data":{"name":"NE_CRC"},"mark":"line","encoding":{"x":{"field":"year","type":"quantitative","scale":{"domain":[1986.1,2031.9],"nice":false,"zero":false},"axis":null},"y":{"field":"rate","type":"quantitative","scale":{"domain":[-3.9,93.2],"nice":false,"zero":false},"axis":null},"color":{"field":"age","type":"nominal","title":"Age:"},"strokeDash":{"field":"part","type":"nominal","legend":null,"scale":{"domain":["obs","proj"],"range":[[1,0],[17.5,17.5]]}}}},
     {"width":254,"height":63,"data":{"name":"C_CRC"},"mark":"line","encoding":{"x":{"field":"year","type":"quantitative","scale":{"domain":[1998.4,2031.4],"nice":false,"zero":false},"axis":null},"y":{"field":"rate","type":"quantitative","scale":{"domain":[-3.9,93.2],"nice":false,"zero":false},"axis":null},"color":{"field":"age","type":"nominal","title":"Age:"},"strokeDash":{"field":"part","type":"nominal","legend":null,"scale":{"domain":["obs","proj"],"range":[[1,0],[17.5,17.5]]}}}},
     {"width":254,"height":63,"data":{"name":"S_CRC"},"mark":"line","encoding":{"x":{"field":"year","type":"quantitative","scale":{"domain":[1987.3,2032],"nice":false,"zero":false},"axis":null},"y":{"field":"rate","type":"quantitative","scale":{"domain":[-3.9,93.2],"nice":false,"zero":false},"axis":null},"color":{"field":"age","type":"nominal","title":"Age:"},"strokeDash":{"field":"part","type":"nominal","legend":null,"scale":{"domain":["obs","proj"],"range":[[1,0],[17.5,17.5]]}}}},
     {"width":254,"height":63,"data":{"name":"N_Lv"},"mark":"line","encoding":{"x":{"field":"year","type":"quantitative","scale":{"domain":[1987,2031.8],"nice":false,"zero":false},"axis":null},"y":{"field":"rate","type":"quantitative","scale":{"domain":[-9,216],"nice":false,"zero":false},"axis":{"values":[0,50,100,150,200]}},"color":{"field":"age","type":"nominal","title":"Age:"},"strokeDash":{"field":"part","type":"nominal","legend":null,"scale":{"domain":["obs","proj"],"range":[[1,0],[17.5,17.5]]}}}},
     {"width":254,"height":63,"data":{"name":"NE_Lv"},"mark":"line","encoding":{"x":{"field":"year","type":"quantitative","scale":{"domain":[1986.1,2031.9],"nice":false,"zero":false},"axis":null},"y":{"field":"rate","type":"quantitative","scale":{"domain":[-9,216],"nice":false,"zero":false},"axis":null},"color":{"field":"age","type":"nominal","title":"Age:"},"strokeDash":{"field":"part","type":"nominal","legend":null,"scale":{"domain":["obs","proj"],"range":[[1,0],[17.5,17.5]]}}}},
     {"width":254,"height":63,"data":{"name":"C_Lv"},"mark":"line","encoding":{"x":{"field":"year","type":"quantitative","scale":{"domain":[1998.4,2031.4],"nice":false,"zero":false},"axis":null},"y":{"field":"rate","type":"quantitative","scale":{"domain":[-9,216],"nice":false,"zero":false},"axis":null},"color":{"field":"age","type":"nominal","title":"Age:"},"strokeDash":{"field":"part","type":"nominal","legend":null,"scale":{"domain":["obs","proj"],"range":[[1,0],[17.5,17.5]]}}}},
     {"width":254,"height":63,"data":{"name":"S_Lv"},"mark":"line","encoding":{"x":{"field":"year","type":"quantitative","scale":{"domain":[1987.3,2032],"nice":false,"zero":false},"axis":null},"y":{"field":"rate","type":"quantitative","scale":{"domain":[-9,216],"nice":false,"zero":false},"axis":null},"color":{"field":"age","type":"nominal","title":"Age:"},"strokeDash":{"field":"part","type":"nominal","legend":null,"scale":{"domain":["obs","proj"],"range":[[1,0],[17.5,17.5]]}}}},
     {"width":254,"height":63,"data":{"name":"N_Lg"},"mark":"line","encoding":{"x":{"field":"year","type":"quantitative","scale":{"domain":[1987,2031.8],"nice":false,"zero":false},"axis":{"values":[1990,2000,2010,2020,2030],"format":"d"}},"y":{"field":"rate","type":"quantitative","scale":{"domain":[-5.7,175],"nice":false,"zero":false},"axis":{"values":[0,50,100,150]}},"color":{"field":"age","type":"nominal","title":"Age:"},"strokeDash":{"field":"part","type":"nominal","legend":null,"scale":{"domain":["obs","proj"],"range":[[1,0],[17.5,17.5]]}}}},
     {"width":254,"height":63,"data":{"name":"NE_Lg"},"mark":"line","encoding":{"x":{"field":"year","type":"quantitative","scale":{"domain":[1986.1,2031.9],"nice":false,"zero":false},"axis":{"values":[1990,2000,2010,2020,2030],"format":"d"}},"y":{"field":"rate","type":"quantitative","scale":{"domain":[-5.7,175],"nice":false,"zero":false},"axis":null},"color":{"field":"age","type":"nominal","title":"Age:"},"strokeDash":{"field":"part","type":"nominal","legend":null,"scale":{"domain":["obs","proj"],"range":[[1,0],[17.5,17.5]]}}}},
     {"width":254,"height":63,"data":{"name":"C_Lg"},"mark":"line","encoding":{"x":{"field":"year","type":"quantitative","scale":{"domain":[1998.4,2031.4],"nice":false,"zero":false},"axis":{"values":[2000,2010,2020,2030],"format":"d"}},"y":{"field":"rate","type":"quantitative","scale":{"domain":[-5.7,175],"nice":false,"zero":false},"axis":null},"color":{"field":"age","type":"nominal","title":"Age:"},"strokeDash":{"field":"part","type":"nominal","legend":null,"scale":{"domain":["obs","proj"],"range":[[1,0],[17.5,17.5]]}}}},
     {"width":254,"height":63,"data":{"name":"S_Lg"},"mark":"line","encoding":{"x":{"field":"year","type":"quantitative","scale":{"domain":[1987.3,2032],"nice":false,"zero":false},"axis":{"values":[1990,2000,2010,2020,2030],"format":"d"}},"y":{"field":"rate","type":"quantitative","scale":{"domain":[-5.7,175],"nice":false,"zero":false},"axis":null},"color":{"field":"age","type":"nominal","title":"Age:"},"strokeDash":{"field":"part","type":"nominal","legend":null,"scale":{"domain":["obs","proj"],"range":[[1,0],[17.5,17.5]]}}}}
   ],"columns":4,"spacing":{"row":10.25,"column":11},"bounds":"flush"},
   {"vconcat":[
    {"width":20,"height":63,"view":{"stroke":"#333333","strokeWidth":1.5,"fill":"white"},"data":{"values":[{"t":"Breast"}]},"mark":{"type":"text","angle":90,"fontSize":14.5,"color":"#1a1a1a"},"encoding":{"text":{"field":"t"}}},
    {"width":20,"height":63,"view":{"stroke":"#333333","strokeWidth":1.5,"fill":"white"},"data":{"values":[{"t":"Cervix"}]},"mark":{"type":"text","angle":90,"fontSize":14.5,"color":"#1a1a1a"},"encoding":{"text":{"field":"t"}}},
    {"width":20,"height":63,"view":{"stroke":"#333333","strokeWidth":1.5,"fill":"white"},"data":{"values":[{"t":"CRC"}]},"mark":{"type":"text","angle":90,"fontSize":14.5,"color":"#1a1a1a"},"encoding":{"text":{"field":"t"}}},
    {"width":20,"height":63,"view":{"stroke":"#333333","strokeWidth":1.5,"fill":"white"},"data":{"values":[{"t":"Liver"}]},"mark":{"type":"text","angle":90,"fontSize":14.5,"color":"#1a1a1a"},"encoding":{"text":{"field":"t"}}},
    {"width":20,"height":63,"view":{"stroke":"#333333","strokeWidth":1.5,"fill":"white"},"data":{"values":[{"t":"Lung"}]},"mark":{"type":"text","angle":90,"fontSize":14.5,"color":"#1a1a1a"},"encoding":{"text":{"field":"t"}}}
   ],"spacing":10.25,"bounds":"flush"}
  ],"spacing":0}
 ],"spacing":2},
 {"width":1049,"height":27,"data":{"values":[{"t":"Year"}]},"mark":{"type":"text","fontSize":17,"fontWeight":"bold","color":"#000000"},"encoding":{"text":{"field":"t"},"y":{"field":"t","type":"nominal","axis":{"labels":false,"ticks":false,"domain":false}}}}
],"spacing":0}
],
"spacing":0
}
